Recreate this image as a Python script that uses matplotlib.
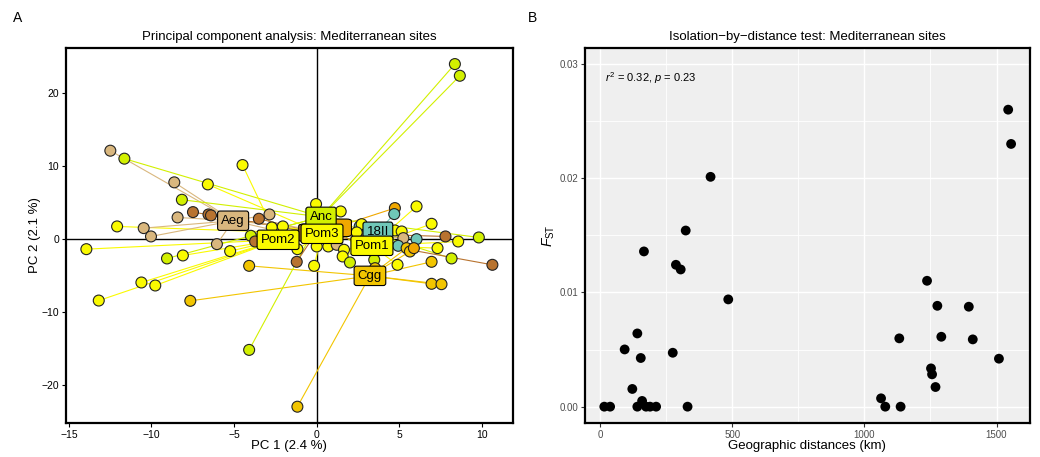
import matplotlib
matplotlib.use("Agg")
import matplotlib.pyplot as plt
from matplotlib.patches import FancyBboxPatch
import numpy as np

plt.rcParams['font.family'] = ['Liberation Sans', 'DejaVu Sans']
plt.rcParams['mathtext.fontset'] = 'custom'
plt.rcParams['mathtext.rm'] = 'Liberation Sans'
plt.rcParams['mathtext.it'] = 'Liberation Sans:italic'

# ---- panel A data: PCA individuals, group and group centroid ----
pc1 = [8.36, 8.66, -12.49, -11.64, -4.49, -8.62, -6.59, -8.16, -7.49, -6.55,
       -6.40, -8.42, -3.50, -2.86, -12.08, -10.47, -10.03, -13.94, -6.04, -5.24,
       -3.99, -3.73, -2.72, -2.05, -9.06, -8.10, -10.61, -9.77, -13.19, -7.65,
       -4.09, -4.09, -1.17, -1.17, -1.21, -0.16, -0.04, 1.45, 0.00, 0.70,
       1.21, 2.60, 2.72, 2.42, 1.65, 1.57, 2.01, 3.48, 3.53, 4.73,
       4.69, 6.04, 6.95, 4.73, 5.14, 5.24, 6.04, 4.93, 5.44, 5.64,
       5.88, 7.79, 8.56, 9.81, 7.31, 8.16, 6.95, 4.89, 10.63, 6.95, 7.55]
pc2 = [23.9, 22.3, 12.05, 10.96, 10.09, 7.72, 7.44, 5.34, 3.65, 3.33,
       3.20, 2.92, 2.74, 3.33, 1.69, 1.46, 0.32, -1.42, -0.73, -1.69,
       0.41, -0.37, 1.55, 1.69, -2.69, -2.28, -5.98, -6.39, -8.45, -8.49,
       -3.70, -15.2, -22.97, -1.42, -3.15, -3.70, 4.75, 3.74, -1.05, -1.05,
       -0.82, 1.70, 2.00, 0.87, -1.50, -2.42, -3.24, -2.88, -4.02, 4.20,
       3.38, 4.43, 2.05, 1.14, 1.00, 0.09, -0.05, -0.96, -1.28, -1.74,
       -1.28, 0.32, -0.37, 0.18, -1.28, -2.69, -3.15, -3.56, -3.56, -6.16, -6.21]
grp = ['Anc', 'Anc', 'Aeg', 'Anc', 'Pom2', 'Aeg', 'Pom3', 'Anc', 'Tyr', 'Tyr',
       'Tyr', 'Aeg', 'Tyr', 'Aeg', 'Pom3', 'Aeg', 'Aeg', 'Pom2', 'Aeg', 'Pom2',
       'Anc', 'Tyr', 'Pom2', 'Pom3', 'Anc', 'Pom2', 'Pom2', 'Pom2', 'Pom2', 'Cgg',
       'Cgg', 'Anc', 'Cgg', 'Pom3', 'Tyr', 'Pom3', 'Pom3', 'Pom3', 'Pom3', 'Pom3',
       'Aeg', '18II', 'Pom1', 'Pom1', 'Pom1', 'Pom1', 'Anc', 'Anc', 'Cgg', 'Ion',
       '18II', 'Pom1', 'Pom1', 'Pom1', 'Pom1', 'Aeg', '18II', '18II', 'Cgg', 'Cgg',
       'Ion', 'Tyr', 'Pom1', 'Anc', 'Pom1', 'Anc', 'Cgg', 'Pom1', 'Tyr', 'Cgg', 'Cgg']

groups = ['Aeg', 'Anc', 'Tyr', 'Ion', 'Pom2', 'Pom3', '18II', 'Pom1', 'Cgg']
cent_x = [-5.06, 0.26, -0.04, 1.05, -2.34, 0.32, 3.70, 3.34, 3.22]
cent_y = [2.47, 3.00, 0.82, 1.50, -0.14, 0.68, 0.96, -0.96, -5.07]
colors = ['#D9B77E', '#D2F000', '#B8732F', '#F0A800', '#FAFA00', '#FAFA00',
          '#6FC7B8', '#FAFA00', '#F2C500']
# labels of these two groups are fully covered by the Pom3 label
hidden = ['Tyr', 'Ion']

# ---- panel B data: isolation by distance ----
dist_km = [16, 38, 93, 122, 141, 154, 166, 159, 141, 174, 189, 212, 275, 287,
           305, 324, 331, 418, 485, 1063, 1079, 1132, 1137, 1237, 1252, 1256,
           1269, 1276, 1291, 1395, 1410, 1509, 1544, 1555]
fst = [0, 0, 0.00501, 0.00155, 0.00641, 0.00426, 0.01359, 0.0005, 0, 0, 0, 0,
       0.00472, 0.01242, 0.01201, 0.01542, 0, 0.02012, 0.00939, 0.00073, 0,
       0.00598, 0, 0.01102, 0.00335, 0.00283, 0.00172, 0.00883, 0.00612,
       0.00875, 0.00589, 0.0042, 0.026, 0.023]

fig = plt.figure(figsize=(10.4, 4.57), dpi=100)
axA = fig.add_axes([0.0635, 0.0744, 0.4295, 0.8206])
axB = fig.add_axes([0.5625, 0.0744, 0.4275, 0.8206])

# ---- A ----
col_of = dict(zip(groups, colors))
cx = dict(zip(groups, cent_x))
cy = dict(zip(groups, cent_y))
axA.axhline(0, color='black', lw=1, zorder=1)
axA.axvline(0, color='black', lw=1, zorder=1)
for x, y, g in zip(pc1, pc2, grp):
    axA.plot([x, cx[g]], [y, cy[g]], color=col_of[g], lw=0.8, zorder=2)
axA.scatter(pc1, pc2, s=62, c=[col_of[g] for g in grp], edgecolors='#222222',
            linewidths=0.8, zorder=3)
for g, x, y, c in zip(groups, cent_x, cent_y, colors):
    if g in hidden:
        w, h = 2.1, 2.4
        axA.add_patch(FancyBboxPatch((x - w / 2, y - h / 2), w, h,
                                     boxstyle='round,pad=0,rounding_size=0.3',
                                     fc=c, ec='black', lw=0.8, zorder=3.5))
        continue
    axA.text(x, y, g, fontsize=9.5, ha='center', va='center', zorder=4,
             bbox=dict(boxstyle='round,pad=0.28,rounding_size=0.18', fc=c,
                       ec='black', lw=0.8))
axA.set_xlim(-15.17, 11.86)
axA.set_ylim(-25.2, 26.1)
axA.set_xticks([-15, -10, -5, 0, 5, 10])
axA.set_yticks([-20, -10, 0, 10, 20])
axA.tick_params(labelsize=7.5, length=3, width=0.8, color='black', pad=2)
for s in axA.spines.values():
    s.set_linewidth(1.6)
axA.set_xlabel('PC 1 (2.4 %)', fontsize=9.5, labelpad=0)
axA.set_ylabel('PC 2 (2.1 %)', fontsize=9.5, labelpad=0)
axA.set_title('Principal component analysis: Mediterranean sites', fontsize=9.5, pad=6)

# ---- B ----
axB.set_facecolor('#EFEFEF')
axB.set_axisbelow(True)
axB.set_xticks([0, 500, 1000, 1500])
axB.set_xticks([250, 750, 1250], minor=True)
axB.set_yticks([0, 0.01, 0.02, 0.03])
axB.set_yticks([0.005, 0.015, 0.025], minor=True)
axB.grid(True, which='major', color='white', lw=1.0)
axB.grid(True, which='minor', color='white', lw=0.6)
axB.scatter(dist_km, fst, s=50, color='black', edgecolors='none', zorder=3)
axB.set_xlim(-57, 1625)
axB.set_ylim(-0.00143, 0.0314)
axB.set_yticklabels(['0.00', '0.01', '0.02', '0.03'])
axB.tick_params(which='major', labelsize=7, labelcolor='#4D4D4D', length=3,
                width=0.8, color='#333333', pad=2)
axB.tick_params(which='minor', length=0)
for s in axB.spines.values():
    s.set_linewidth(1.6)
axB.text(20, 0.0288, r'$r^2$ = 0.32, $p$ = 0.23', fontsize=8, ha='left', va='center')
axB.set_xlabel('Geographic distances (km)', fontsize=9.5, labelpad=0)
axB.set_ylabel(r'$F_{\mathrm{ST}}$', fontsize=10, labelpad=2)
axB.set_title('Isolation\u2212by\u2212distance test: Mediterranean sites', fontsize=9.5, pad=6)

fig.text(0.0125, 0.96, 'A', fontsize=10, ha='left', va='center')
fig.text(0.508, 0.96, 'B', fontsize=10, ha='left', va='center')

fig.savefig('out.png', dpi=100)
